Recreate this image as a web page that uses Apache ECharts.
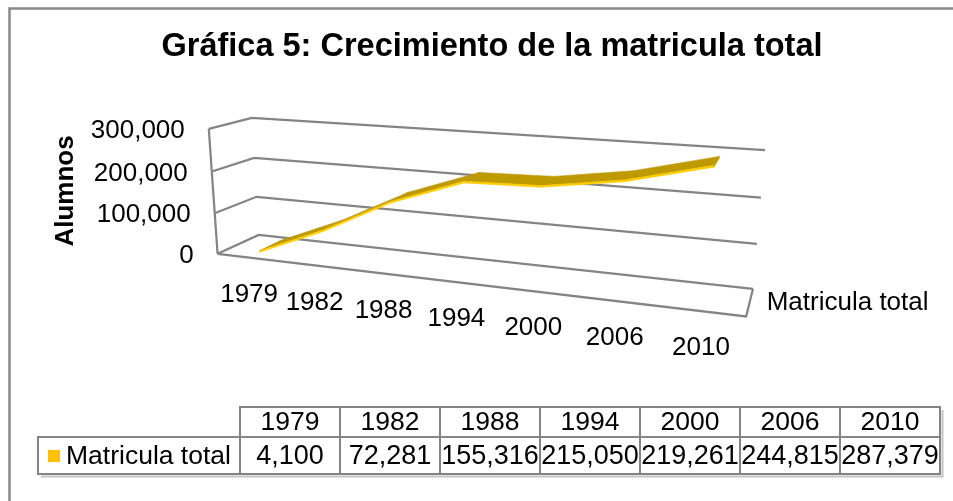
<!DOCTYPE html>
<html><head><meta charset="utf-8">
<script src="https://cdn.jsdelivr.net/npm/echarts@6/dist/echarts.min.js"></script>
<style>html,body{margin:0;padding:0;background:#fff}#c{width:953px;height:501px}</style>
</head><body><div id="c"></div>
<script>
// ---------------- data ----------------
const chartTitle = 'Gráfica 5: Crecimiento de la matricula total';
const seriesName = 'Matricula total';
const yAxisName = 'Alumnos';
const categories = ['1979', '1982', '1988', '1994', '2000', '2006', '2010'];
const values = [4100, 72281, 155316, 215050, 219261, 244815, 287379];
const yTicks = [0, 100000, 200000, 300000];
const yTickLabels = ['0', '100,000', '200,000', '300,000'];

// ---------------- style / layout ----------------
const FONT = "'Liberation Sans', Arial, sans-serif";
const GRID_COLOR = '#848484';
const TOP_COLOR = '#BF9900';
const FRONT_COLOR = '#FFCC00';
const KEY_COLOR = '#FFC000';
const D0 = 0.25, D1 = 0.8, THICK = 0.012;

// 3D frame calibration: [u, v, depth] -> screen
const VIEW_CALIBRATION = [
  [0, 0, 0, 217, 254], [1, 0, 0, 746, 317], [0, 0, 1, 259, 235], [1, 0, 1, 753, 288],
  [0, 1, 0, 208, 129], [0, 1, 1, 252, 118], [1, 1, 1, 765, 150],
  [0, 1/3, 0, 215, 213], [0, 2/3, 0, 213, 171], [0, 1/3, 1, 256, 197], [0, 2/3, 1, 254, 158],
  [1, 1/3, 1, 757, 244], [1, 2/3, 1, 761, 198]
];
const NX = 480, NY = 220, NS = 300;
function fitProjection(pts) {
  const A = [], b = [];
  for (const [u, v, d, X, Y] of pts) {
    const x = (X - NX) / NS, y = (Y - NY) / NS;
    A.push([u, v, d, 1, 0, 0, 0, 0, -x * u, -x * v, -x * d]); b.push(x);
    A.push([0, 0, 0, 0, u, v, d, 1, -y * u, -y * v, -y * d]); b.push(y);
  }
  const n = 11, M = [];
  for (let i = 0; i < n; i++) M.push(new Array(n + 1).fill(0));
  for (let r = 0; r < A.length; r++) {
    for (let i = 0; i < n; i++) {
      for (let j = 0; j < n; j++) M[i][j] += A[r][i] * A[r][j];
      M[i][n] += A[r][i] * b[r];
    }
  }
  for (let c = 0; c < n; c++) {
    let p = c;
    for (let r = c + 1; r < n; r++) if (Math.abs(M[r][c]) > Math.abs(M[p][c])) p = r;
    const tmp = M[c]; M[c] = M[p]; M[p] = tmp;
    for (let r = 0; r < n; r++) {
      if (r === c) continue;
      const f = M[r][c] / M[c][c];
      for (let k = c; k <= n; k++) M[r][k] -= f * M[c][k];
    }
  }
  return M.map((row, i) => row[n] / row[i]);
}
const PM = fitProjection(VIEW_CALIBRATION);
function P(u, v, d) {
  const w = PM[8] * u + PM[9] * v + PM[10] * d + 1;
  const x = (PM[0] * u + PM[1] * v + PM[2] * d + PM[3]) / w;
  const y = (PM[4] * u + PM[5] * v + PM[6] * d + PM[7]) / w;
  return [x * NS + NX, y * NS + NY];
}

const chart = echarts.init(document.getElementById('c'), null, { renderer: 'canvas' });

function polyline(pts) {
  return { type: 'polyline', shape: { points: pts }, style: { stroke: GRID_COLOR, lineWidth: 2.2, fill: null } };
}
function polygon(pts, color) {
  return { type: 'polygon', shape: { points: pts }, style: { fill: color, stroke: color, lineWidth: 0.6 } };
}

// table graphics
const TBL = { left: 38, headLeft: 240, colW: 100, top: 407, mid: 437, bottom: 474 };
const tableEls = [];
const nC = categories.length;
const tRight = TBL.headLeft + nC * TBL.colW;
tableEls.push({ type: 'polyline', shape: { points: [[TBL.left + 3, TBL.bottom + 2.5], [tRight + 2.5, TBL.bottom + 2.5], [tRight + 2.5, TBL.top + 3]] }, style: { stroke: '#c4c4c4', lineWidth: 2, fill: null } });
tableEls.push({ type: 'rect', shape: { x: TBL.headLeft, y: TBL.top, width: nC * TBL.colW, height: TBL.mid - TBL.top }, style: { fill: null, stroke: GRID_COLOR, lineWidth: 2 } });
tableEls.push({ type: 'rect', shape: { x: TBL.left, y: TBL.mid, width: tRight - TBL.left, height: TBL.bottom - TBL.mid }, style: { fill: null, stroke: GRID_COLOR, lineWidth: 2 } });
for (let i = 0; i <= nC; i++) {
  const x = TBL.headLeft + i * TBL.colW;
  tableEls.push({ type: 'line', shape: { x1: x, y1: TBL.top, x2: x, y2: TBL.bottom }, style: { stroke: GRID_COLOR, lineWidth: 2 } });
}
categories.forEach((c, i) => {
  const cx = TBL.headLeft + (i + 0.5) * TBL.colW;
  tableEls.push({ type: 'text', x: cx, y: (TBL.top + TBL.mid) / 2 + 1, style: { text: c, font: '26.5px ' + FONT, fill: '#000', align: 'center', verticalAlign: 'middle' } });
  tableEls.push({ type: 'text', x: cx, y: (TBL.mid + TBL.bottom) / 2 + 1, style: { text: values[i].toLocaleString('en-US'), font: '27px ' + FONT, fill: '#000', align: 'center', verticalAlign: 'middle' } });
});
tableEls.push({ type: 'rect', shape: { x: 48, y: 450, width: 12, height: 12 }, style: { fill: KEY_COLOR } });
tableEls.push({ type: 'text', x: 66, y: (TBL.mid + TBL.bottom) / 2 + 1, style: { text: seriesName, font: '26.5px ' + FONT, fill: '#000', align: 'left', verticalAlign: 'middle' } });

const depthLabelPos = P(1, 0, 0.5);

const option = {
  animation: false,
  backgroundColor: '#fff',
  grid: { left: 100, top: 100, width: 600, height: 300, show: false },
  xAxis: { type: 'category', data: categories, show: false },
  yAxis: { type: 'value', min: 0, max: 300000, interval: 100000, show: false },
  graphic: [
    { type: 'rect', shape: { x: 9.5, y: 8.5, width: 1000, height: 600 }, style: { fill: null, stroke: '#888', lineWidth: 2.5 } },
    { type: 'text', x: 492, y: 47, style: { text: chartTitle, font: 'bold 32.5px ' + FONT, fill: '#000', align: 'center', verticalAlign: 'middle' } },
    { type: 'text', x: 66, y: 191, rotation: Math.PI / 2, style: { text: yAxisName, font: 'bold 26px ' + FONT, fill: '#000', align: 'center', verticalAlign: 'middle' } },
    { type: 'text', x: depthLabelPos[0] + 17, y: depthLabelPos[1] + 1, style: { text: seriesName, font: '26px ' + FONT, fill: '#000', align: 'left', verticalAlign: 'middle' } },
    { type: 'group', children: tableEls }
  ],
  series: [
    {
      type: 'custom', name: 'frame', coordinateSystem: 'cartesian2d', silent: true, z: 1,
      data: yTicks.map(t => [0, t]),
      renderItem(params, api) {
        const cs = params.coordSys;
        const toV = val => (cs.y + cs.height - api.coord([0, val])[1]) / cs.height;
        const i = params.dataIndex;
        const v = toV(yTicks[i]);
        const ch = [];
        ch.push(polyline([P(0, v, 0), P(0, v, 1), P(1, v, 1)]));
        if (i < yTicks.length - 1) ch.push(polyline([P(0, v, 0), P(0, toV(yTicks[i + 1]), 0)]));
        if (i === 0) ch.push(polyline([P(0, v, 0), P(1, v, 0), P(1, v, 1)]));
        const lp = P(0, v, 0);
        ch.push({ type: 'text', x: lp[0] - 24, y: lp[1] + 2, style: { text: yTickLabels[i], font: '26px ' + FONT, fill: '#000', align: 'right', verticalAlign: 'middle' } });
        return { type: 'group', children: ch };
      }
    },
    {
      type: 'custom', name: seriesName, coordinateSystem: 'cartesian2d', z: 2,
      data: values.map((v, i) => [i, v]),
      renderItem(params, api) {
        const cs = params.coordSys;
        const i = params.dataIndex;
        const uv = (ci, val) => { const p = api.coord([ci, val]); return [(p[0] - cs.x) / cs.width, (cs.y + cs.height - p[1]) / cs.height]; };
        const [ua, va] = uv(i, values[i]);
        const ch = [];
        if (i < values.length - 1) {
          const [ub, vb] = uv(i + 1, values[i + 1]);
          ch.push(polygon([P(ua, va, D0), P(ub, vb, D0), P(ub, vb, D1), P(ua, va, D1)], TOP_COLOR));
          ch.push(polygon([P(ua, va, D0), P(ub, vb, D0), P(ub, vb - THICK, D0), P(ua, va - THICK, D0)], FRONT_COLOR));
        } else {
          ch.push(polygon([P(ua, va, D0), P(ua, va, D1), P(ua, va - THICK, D1), P(ua, va - THICK, D0)], TOP_COLOR));
        }
        const [u0] = uv(i, 0);
        const fp = P(u0, 0, 0);
        ch.push({ type: 'text', x: fp[0], y: fp[1] + 37, style: { text: categories[i], font: '26px ' + FONT, fill: '#000', align: 'center', verticalAlign: 'middle' } });
        return { type: 'group', children: ch };
      }
    }
  ]
};
chart.setOption(option);
</script>
</body></html>
